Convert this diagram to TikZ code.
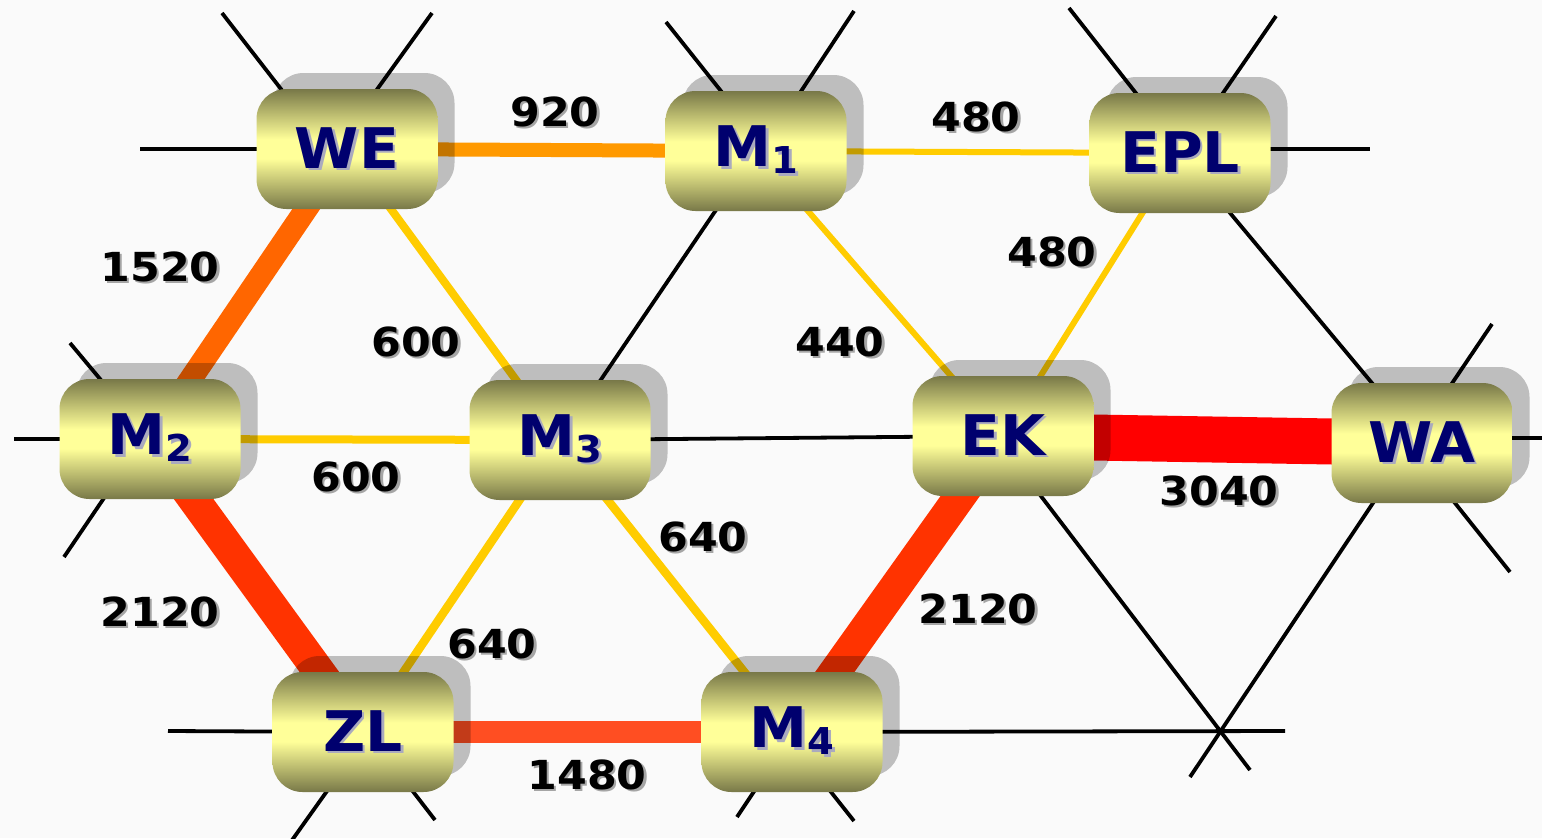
\documentclass[tikz,border=0pt]{standalone}
\usepackage{fontspec}
\setmainfont{DejaVu Sans}
\newfontfamily\labfont[FakeStretch=1.07]{DejaVu Sans Bold}
\newfontfamily\nodefont[FakeStretch=1.04]{DejaVu Sans Bold}
\usetikzlibrary{shadows}
\pgfdeclarelayer{background}
\pgfsetlayers{background,main}
\definecolor{bg}{RGB}{250,250,250}
\definecolor{olivedk}{RGB}{120,120,72}
\definecolor{olivemd}{RGB}{185,185,110}
\definecolor{olivelt}{RGB}{255,255,153}
\definecolor{navytext}{RGB}{0,0,110}
\definecolor{textshadow}{RGB}{170,170,190}
\definecolor{labshadow}{RGB}{165,165,165}
\definecolor{cA}{RGB}{255,0,0}
\definecolor{cB}{RGB}{255,51,0}
\definecolor{cC}{RGB}{255,102,0}
\definecolor{cD}{RGB}{255,78,34}
\definecolor{cE}{RGB}{255,153,0}
\definecolor{cF}{RGB}{255,204,0}
\pgfdeclareverticalshading{nodeshade}{100bp}{color(0bp)=(olivedk); color(25bp)=(olivedk); color(35bp)=(olivemd); color(46bp)=(olivelt); color(54bp)=(olivelt); color(65bp)=(olivemd); color(75bp)=(olivedk); color(100bp)=(olivedk)}
\newcommand\shtxt[2]{\leavevmode\rlap{\kern2.5pt\raisebox{-2.5pt}{\textcolor{#1}{#2}}}#2}
\newcommand\subn[1]{\raisebox{-7pt}{\fontsize{37}{37}\selectfont #1}}
\tikzset{
  router/.style={rounded corners=30pt, minimum width=181pt, minimum height=120pt,
    inner sep=0pt, shading=nodeshade,
    drop shadow={shadow xshift=17pt, shadow yshift=16pt, opacity=0.24, fill=black},
    font=\nodefont\fontsize{56}{60}\selectfont, text=navytext},
  lab/.style={font=\labfont\fontsize{40}{42}\selectfont, text=black, inner sep=0pt},
  wire/.style={line width=3.8pt, draw=black},
  flow/.style 2 args={draw=#1, line width=#2}
}
\begin{document}
\begin{tikzpicture}[x=1pt,y=-1pt]
\path[use as bounding box] (0,0) rectangle (1542,838);
% nodes
\node[router] (WE)  at (347,149) {\shtxt{textshadow}{WE}};
\node[router] (M1)  at (756,151) {\shtxt{textshadow}{M\subn{1}}};
\node[router] (EPL) at (1180,153) {\shtxt{textshadow}{EPL}};
\node[router] (M2)  at (150,439) {\shtxt{textshadow}{M\subn{2}}};
\node[router] (M3)  at (560,440) {\shtxt{textshadow}{M\subn{3}}};
\node[router] (EK)  at (1003,436) {\shtxt{textshadow}{EK}};
\node[router] (WA)  at (1422,443) {\shtxt{textshadow}{WA}};
\node[router] (ZL)  at (363,732) {\shtxt{textshadow}{ZL}};
\node[router] (M4)  at (792,732) {\shtxt{textshadow}{M\subn{4}}};
% free ends of stubs
\coordinate (we1) at (222,13);  \coordinate (we2) at (432,13);  \coordinate (we3) at (140,149);
\coordinate (m11) at (666,22);  \coordinate (m12) at (854,11);
\coordinate (ep1) at (1069,8);  \coordinate (ep2) at (1276,16); \coordinate (ep3) at (1370,149);
\coordinate (m21) at (70,343);  \coordinate (m22) at (14,439);  \coordinate (m23) at (64,557);
\coordinate (wa1) at (1492,324); \coordinate (wa2) at (1542,438); \coordinate (wa3) at (1510,572); \coordinate (wa4) at (1190,777);
\coordinate (ek1) at (1250,770);
\coordinate (zl1) at (168,731); \coordinate (zl2) at (290,843); \coordinate (zl3) at (435,820);
\coordinate (m41) at (737,817); \coordinate (m42) at (854,821); \coordinate (m43) at (1285,731);
\begin{pgfonlayer}{background}
\fill[bg] (0,0) rectangle (1542,838);
% thin black lines
\draw[wire] ([shift={(-42,-29)}]WE.center) -- (we1);
\draw[wire] ([shift={(8,-29)}]WE.center) -- (we2);
\draw[wire] (WE.center) -- (we3);
\draw[wire] ([shift={(-12,-31)}]M1.center) -- (m11);
\draw[wire] ([shift={(26,-31)}]M1.center) -- (m12);
\draw[wire] ([shift={(-19,-28)}]EPL.center) -- (ep1);
\draw[wire] ([shift={(21,-28)}]EPL.center) -- (ep2);
\draw[wire] ([shift={(0,-4)}]EPL.center) -- (ep3);
\draw[wire] ([shift={(-24,-29)}]M2.center) -- (m21);
\draw[wire] (M2.center) -- (m22);
\draw[wire] ([shift={(-27,31)}]M2.center) -- (m23);
\draw[wire] ([shift={(10,-30)}]WA.center) -- (wa1);
\draw[wire] ([shift={(0,-5)}]WA.center) -- (wa2);
\draw[wire] ([shift={(9,30)}]WA.center) -- (wa3);
\draw[wire] ([shift={(-29,30)}]WA.center) -- (wa4);
\draw[wire] ([shift={(15,30)}]EK.center) -- (ek1);
\draw[wire] (ZL.center) -- (zl1);
\draw[wire] ([shift={(-16,31)}]ZL.center) -- (zl2);
\draw[wire] ([shift={(28,31)}]ZL.center) -- (zl3);
\draw[wire] ([shift={(-19,31)}]M4.center) -- (m41);
\draw[wire] ([shift={(16,31)}]M4.center) -- (m42);
\draw[wire] (M4.center) -- (m43);
\draw[wire] (M1.center) -- (M3.center);
\draw[wire] (EPL.center) -- (WA.center);
\draw[wire] (M3.center) -- (EK.center);
% weighted links
\draw[flow={cE}{14pt}] (WE.center) -- (M1.center);
\draw[flow={cF}{6pt}] (M1.center) -- (EPL.center);
\draw[flow={cC}{23pt}] (WE.center) -- (M2.center);
\draw[flow={cF}{8pt}] (WE.center) -- (M3.center);
\draw[flow={cF}{8pt}] (M2.center) -- (M3.center);
\draw[flow={cF}{6pt}] (M1.center) -- (EK.center);
\draw[flow={cF}{6pt}] (EPL.center) -- (EK.center);
\draw[flow={cA}{46pt}] (EK.center) -- (WA.center);
\draw[flow={cB}{32pt}] (M2.center) -- (ZL.center);
\draw[flow={cF}{8.5pt}] (M3.center) -- (ZL.center);
\draw[flow={cF}{8.5pt}] (M3.center) -- (M4.center);
\draw[flow={cD}{22pt}] (ZL.center) -- (M4.center);
\draw[flow={cB}{32pt}] (M4.center) -- (EK.center);
\end{pgfonlayer}
% labels
\node[lab] (l920)  at (555,113) {\shtxt{labshadow}{920}};
\node[lab] (l480a) at (976,118) {\shtxt{labshadow}{480}};
\node[lab] (l1520) at (160,268) {\shtxt{labshadow}{1520}};
\node[lab] (l600a) at (416,343) {\shtxt{labshadow}{600}};
\node[lab] (l440)  at (840,343) {\shtxt{labshadow}{440}};
\node[lab] (l480b) at (1052,253) {\shtxt{labshadow}{480}};
\node[lab] (l600b) at (356,478) {\shtxt{labshadow}{600}};
\node[lab] (l640a) at (703,538) {\shtxt{labshadow}{640}};
\node[lab] (l3040) at (1219,492) {\shtxt{labshadow}{3040}};
\node[lab] (l2120a) at (160,613) {\shtxt{labshadow}{2120}};
\node[lab] (l640b) at (492,645) {\shtxt{labshadow}{640}};
\node[lab] (l2120b) at (978,610) {\shtxt{labshadow}{2120}};
\node[lab] (l1480) at (587,776) {\shtxt{labshadow}{1480}};
\end{tikzpicture}
\end{document}
